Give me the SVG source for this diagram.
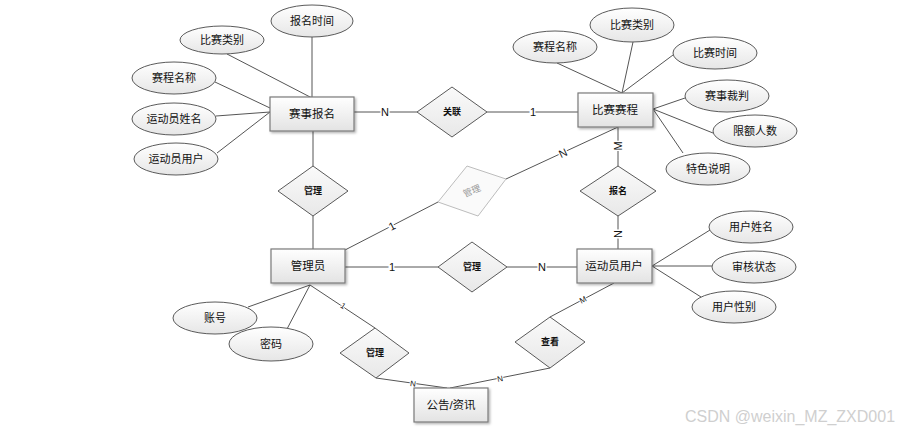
<svg xmlns="http://www.w3.org/2000/svg" width="903" height="434" viewBox="0 0 903 434">
<defs>
<linearGradient id="gE" x1="0" y1="0" x2="0" y2="1"><stop offset="0" stop-color="#ffffff"/><stop offset="1" stop-color="#e6e6e6"/></linearGradient>
<linearGradient id="gR" x1="0" y1="0" x2="0" y2="1"><stop offset="0" stop-color="#ffffff"/><stop offset="1" stop-color="#e3e3e3"/></linearGradient>
<linearGradient id="gD" x1="0" y1="0" x2="0" y2="1"><stop offset="0" stop-color="#fafafa"/><stop offset="1" stop-color="#e8e8e8"/></linearGradient>
<filter id="sh" x="-10%" y="-10%" width="130%" height="140%"><feDropShadow dx="1.5" dy="1.5" stdDeviation="0.8" flood-color="#000" flood-opacity="0.3"/></filter>
</defs>
<style>
.ent rect{fill:url(#gR);stroke:#7a7a7a;stroke-width:1.2;filter:url(#sh)}
.att ellipse{fill:url(#gE);stroke:#5a5a5a;stroke-width:1}
.rel polygon{fill:url(#gD);stroke:#5a5a5a;stroke-width:1}
text{font-family:"Liberation Sans","Noto Sans CJK SC",sans-serif;fill:#111;text-anchor:middle;dominant-baseline:central}
.t{font-size:11.5px}
.a{font-size:11px}
.r{font-size:9px;font-weight:bold}
.c{font-size:11px;stroke:#fff;stroke-width:3;paint-order:stroke}
.cs{font-size:8px;stroke:#fff;stroke-width:2;paint-order:stroke}
#connectors line{stroke:#555;stroke-width:1}
</style>
<rect width="903" height="434" fill="#fff"/>
<g id="connectors">
<line x1="227" y1="54" x2="312" y2="98"/>
<line x1="312" y1="37" x2="312" y2="98"/>
<line x1="215" y1="82" x2="270" y2="108"/>
<line x1="216" y1="116" x2="270" y2="112"/>
<line x1="217" y1="153" x2="270" y2="112"/>
<line x1="557" y1="63" x2="622" y2="93"/>
<line x1="633" y1="42" x2="622" y2="93"/>
<line x1="673" y1="55" x2="622" y2="93"/>
<line x1="653" y1="109" x2="685" y2="98"/>
<line x1="653" y1="109" x2="713" y2="133"/>
<line x1="653" y1="109" x2="683" y2="153"/>
<line x1="652" y1="266" x2="710" y2="230"/>
<line x1="652" y1="266" x2="712" y2="266"/>
<line x1="652" y1="266" x2="701" y2="297"/>
<line x1="310" y1="285" x2="248" y2="307"/>
<line x1="310" y1="285" x2="287" y2="329"/>
<line x1="354" y1="112" x2="417" y2="112"/>
<line x1="487" y1="112" x2="578" y2="112"/>
<line x1="313" y1="131" x2="313" y2="166"/>
<line x1="313" y1="216" x2="313" y2="249"/>
<line x1="345" y1="250" x2="438" y2="202"/>
<line x1="506" y1="179" x2="618" y2="127"/>
<line x1="618" y1="127" x2="618" y2="166"/>
<line x1="618" y1="216" x2="618" y2="249"/>
<line x1="345" y1="267" x2="438" y2="267"/>
<line x1="507" y1="267" x2="577" y2="267"/>
<line x1="310" y1="285" x2="375" y2="328"/>
<line x1="376" y1="378" x2="447" y2="388"/>
<line x1="614" y1="283" x2="550" y2="317"/>
<line x1="550" y1="368" x2="450" y2="388"/>
</g>
<g id="cardinalities">
<text class="c" x="385" y="112">N</text>
<text class="c" x="533" y="112">1</text>
<text class="c" x="392" y="226" transform="rotate(-27 392 226)">1</text>
<text class="c" x="563" y="153" transform="rotate(-25 563 153)">N</text>
<text class="c" x="618" y="146" transform="rotate(-90 618 146)">M</text>
<text class="c" x="618" y="234" transform="rotate(-90 618 234)">N</text>
<text class="c" x="392" y="267">1</text>
<text class="c" x="542" y="267">N</text>
<text class="cs" x="343" y="306" transform="rotate(33 343 306)">1</text>
<text class="cs" x="413" y="384" transform="rotate(8 413 384)">N</text>
<text class="cs" x="583" y="300" transform="rotate(-27 583 300)">M</text>
<text class="cs" x="500" y="379" transform="rotate(-11 500 379)">N</text>
</g>
<g id="e-saishibaoming" class="ent"><rect x="270" y="97" width="84" height="34"/><text class="t" x="312" y="114">赛事报名</text></g>
<g id="e-bisaisaicheng" class="ent"><rect x="578" y="93" width="75" height="34"/><text class="t" x="615" y="110">比赛赛程</text></g>
<g id="e-guanliyuan" class="ent"><rect x="271" y="249" width="74" height="34"/><text class="t" x="308" y="266">管理员</text></g>
<g id="e-yundongyuanyonghu" class="ent"><rect x="577" y="249" width="75" height="34"/><text class="t" x="614" y="266">运动员用户</text></g>
<g id="e-gonggao" class="ent"><rect x="414" y="388" width="74" height="34"/><text class="t" x="451" y="405">公告/资讯</text></g>
<g id="a-bisaileibie1" class="att"><ellipse cx="222" cy="40" rx="42" ry="14"/><text class="a" x="222" y="40">比赛类别</text></g>
<g id="a-baomingshijian" class="att"><ellipse cx="312" cy="21" rx="41" ry="16"/><text class="a" x="312" y="21">报名时间</text></g>
<g id="a-saichengmingcheng1" class="att"><ellipse cx="174" cy="78" rx="42" ry="16"/><text class="a" x="174" y="78">赛程名称</text></g>
<g id="a-yundongyuanxingming" class="att"><ellipse cx="174" cy="119" rx="42" ry="16"/><text class="a" x="174" y="119">运动员姓名</text></g>
<g id="a-yundongyuanyonghu" class="att"><ellipse cx="176" cy="159" rx="42" ry="16"/><text class="a" x="176" y="159">运动员用户</text></g>
<g id="a-saichengmingcheng2" class="att"><ellipse cx="555" cy="47" rx="42" ry="16"/><text class="a" x="555" y="47">赛程名称</text></g>
<g id="a-bisaileibie2" class="att"><ellipse cx="632" cy="25" rx="42" ry="17"/><text class="a" x="632" y="25">比赛类别</text></g>
<g id="a-bisaishijian" class="att"><ellipse cx="715" cy="53" rx="42" ry="16"/><text class="a" x="715" y="53">比赛时间</text></g>
<g id="a-saishicaipan" class="att"><ellipse cx="727" cy="96" rx="42" ry="16"/><text class="a" x="727" y="96">赛事裁判</text></g>
<g id="a-xianerenshu" class="att"><ellipse cx="755" cy="131" rx="42" ry="16"/><text class="a" x="755" y="131">限额人数</text></g>
<g id="a-tesheshuoming" class="att"><ellipse cx="708" cy="169" rx="42" ry="16"/><text class="a" x="708" y="169">特色说明</text></g>
<g id="a-yonghuxingming" class="att"><ellipse cx="751" cy="227" rx="42" ry="16"/><text class="a" x="751" y="227">用户姓名</text></g>
<g id="a-shenhezhuangtai" class="att"><ellipse cx="754" cy="267" rx="42" ry="16"/><text class="a" x="754" y="267">审核状态</text></g>
<g id="a-yonghuxingbie" class="att"><ellipse cx="734" cy="307" rx="42" ry="16"/><text class="a" x="734" y="307">用户性别</text></g>
<g id="a-zhanghao" class="att"><ellipse cx="215" cy="318" rx="42" ry="16"/><text class="a" x="215" y="318">账号</text></g>
<g id="a-mima" class="att"><ellipse cx="271" cy="344" rx="42" ry="17"/><text class="a" x="271" y="344">密码</text></g>
<g id="r-guanlian" class="rel"><polygon points="452,87 487,112 452,137 417,112"/><text class="r" x="452" y="112">关联</text></g>
<g id="r-guanli1" class="rel"><polygon points="313,166 348,191 313,216 278,191"/><text class="r" x="313" y="191">管理</text></g>
<g id="r-guanli-gray"><polygon points="467,166 506,179 478,216 438,202" fill="#fafafa" stroke="#bdbdbd" stroke-width="1"/><text x="472" y="191" transform="rotate(-22 472 191)" style="font-size:9px;fill:#999">管理</text></g>
<g id="r-baoming" class="rel"><polygon points="618,166 656,191 618,216 580,191"/><text class="r" x="618" y="191">报名</text></g>
<g id="r-guanli2" class="rel"><polygon points="472,242 507,267 472,292 438,267"/><text class="r" x="472" y="267">管理</text></g>
<g id="r-guanli3" class="rel"><polygon points="375,328 409,353 376,378 340,353"/><text class="r" x="375" y="353">管理</text></g>
<g id="r-chakan" class="rel"><polygon points="550,317 585,342 550,368 515,342"/><text class="r" x="550" y="342">查看</text></g>
<text x="790" y="416" style="font-size:16px;fill:#cfcfcf">CSDN @weixin_MZ_ZXD001</text>
</svg>
